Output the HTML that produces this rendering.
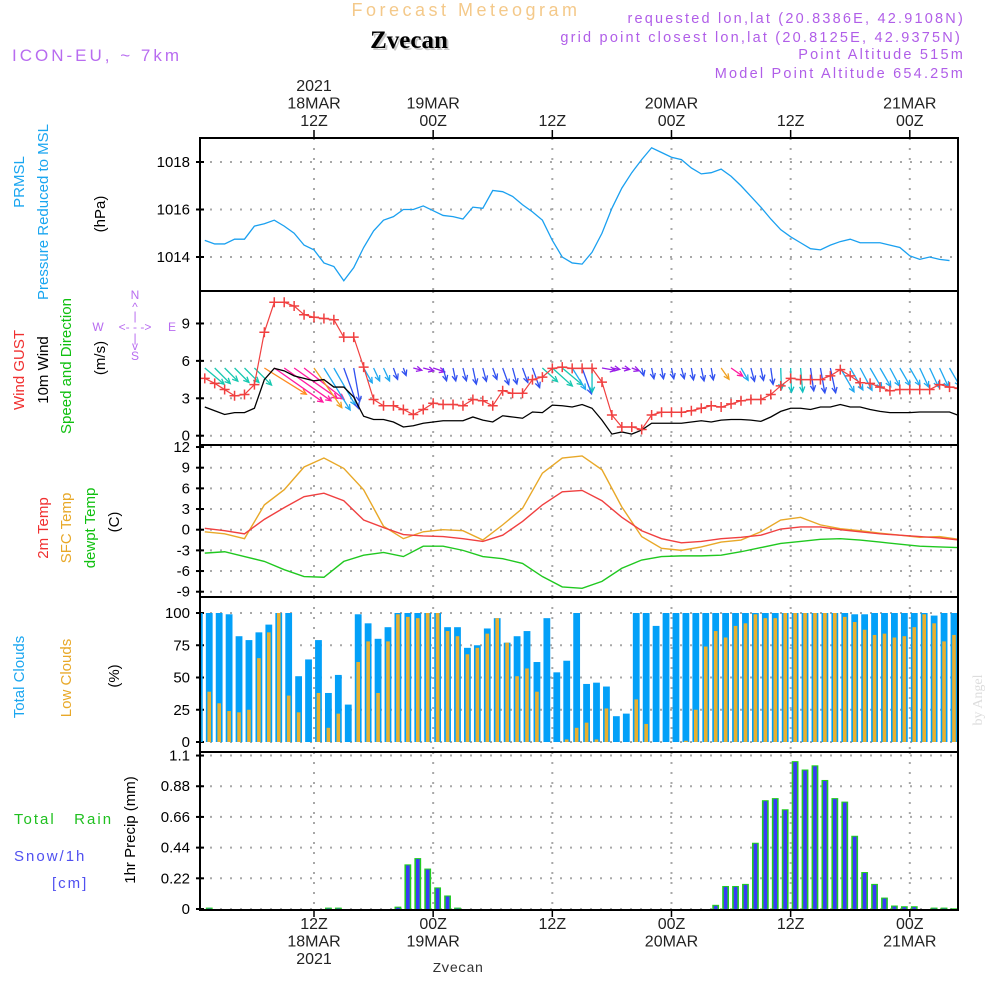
<!DOCTYPE html>
<html><head><meta charset="utf-8"><title>Meteogram Zvecan</title>
<style>
html,body{margin:0;padding:0;background:#fff;width:1000px;height:1000px;overflow:hidden}
svg{display:block;font-family:"Liberation Sans",sans-serif}
</style></head>
<body>
<svg id="chart" width="1000" height="1000" viewBox="0 0 1000 1000" xmlns="http://www.w3.org/2000/svg">
<!-- header -->
<text x="466" y="16" text-anchor="middle" font-size="18" fill="#f4c98a" letter-spacing="3.5">Forecast Meteogram</text>
<text x="411" y="50" text-anchor="middle" font-size="25" font-weight="bold" fill="#c8c8c8" font-family="Liberation Serif, serif">Zvecan</text>
<text x="409" y="48" text-anchor="middle" font-size="25" font-weight="bold" fill="#000" font-family="Liberation Serif, serif">Zvecan</text>
<text x="12" y="61" font-size="17" fill="#b86cf0" letter-spacing="3">ICON-EU, ~ 7km</text>
<g font-size="14.5" fill="#b05ee8" text-anchor="end" letter-spacing="2.2">
<text x="965" y="23">requested lon,lat (20.8386E, 42.9108N)</text>
<text x="962" y="42">grid point closest lon,lat (20.8125E, 42.9375N)</text>
<text x="965" y="59">Point Altitude 515m</text>
<text x="965" y="78">Model Point Altitude 654.25m</text>
</g>
<!-- left axis titles -->
<g font-size="15">
<text transform="translate(24,182) rotate(-90)" text-anchor="middle" fill="#1aa6f0">PRMSL</text>
<text transform="translate(48,212) rotate(-90)" text-anchor="middle" fill="#1aa6f0">Pressure Reduced to MSL</text>
<text transform="translate(105,214) rotate(-90)" text-anchor="middle" fill="#000">(hPa)</text>
<text transform="translate(24,370) rotate(-90)" text-anchor="middle" fill="#f03030">Wind GUST</text>
<text transform="translate(48,370) rotate(-90)" text-anchor="middle" fill="#000">10m Wind</text>
<text transform="translate(71,366) rotate(-90)" text-anchor="middle" fill="#10c010">Speed and Direction</text>
<text transform="translate(105,358) rotate(-90)" text-anchor="middle" fill="#000">(m/s)</text>
<text transform="translate(48,528) rotate(-90)" text-anchor="middle" fill="#f03030">2m Temp</text>
<text transform="translate(71,528) rotate(-90)" text-anchor="middle" fill="#e8a828">SFC Temp</text>
<text transform="translate(95,528) rotate(-90)" text-anchor="middle" fill="#10c010">dewpt Temp</text>
<text transform="translate(119,522) rotate(-90)" text-anchor="middle" fill="#000">(C)</text>
<text transform="translate(24,677) rotate(-90)" text-anchor="middle" fill="#1aa6f0">Total Clouds</text>
<text transform="translate(71,678) rotate(-90)" text-anchor="middle" fill="#e8a828">Low Clouds</text>
<text transform="translate(119,676) rotate(-90)" text-anchor="middle" fill="#000">(%)</text>
<text transform="translate(135,830) rotate(-90)" text-anchor="middle" fill="#000">1hr Precip (mm)</text>
<text x="14" y="824" fill="#20c020" letter-spacing="2">Total&#160;&#160;&#160;Rain</text>
<text x="14" y="861" fill="#5050f0" letter-spacing="2">Snow/1h</text>
<text x="52" y="888" fill="#5050f0" letter-spacing="2">[cm]</text>
</g>
<!-- compass -->
<g fill="#b86cf0" font-size="12" stroke="none">
<text x="135" y="299" text-anchor="middle">N</text>
<text x="135" y="311" text-anchor="middle">^</text>
<text x="135" y="320" text-anchor="middle">|</text>
<text x="98" y="331" text-anchor="middle">W</text>
<text x="135" y="331" text-anchor="middle">&lt;- - -&gt;</text>
<text x="172" y="331" text-anchor="middle">E</text>
<text x="135" y="342" text-anchor="middle">|</text>
<text x="135" y="350" text-anchor="middle">v</text>
<text x="135" y="360" text-anchor="middle">S</text>
</g>
<text transform="translate(982,700) rotate(-90)" text-anchor="middle" font-family="Liberation Serif, serif" font-size="14" fill="#dddddd">by Angel</text>
<text x="458" y="972" text-anchor="middle" font-family="Liberation Mono, monospace" font-size="14" fill="#333">Zvecan</text>
<g id="layer"></g>
</svg>
<script>
// ---------- data ----------
const timeTickHours = [12, 24, 36, 48, 60, 72];
const timeTickTop = [["2021","18MAR","12Z"],["19MAR","00Z"],["12Z"],["20MAR","00Z"],["12Z"],["21MAR","00Z"]];
const timeTickBottom = [["12Z","18MAR","2021"],["00Z","19MAR"],["12Z"],["00Z","20MAR"],["12Z"],["00Z","21MAR"]];

const pressHours = [1,2,3,4,5,6,7,8,9,10,11,12,13,14,15,16,17,18,19,20,21,22,23,24,25,26,27,28,29,30,31,32,33,34,35,36,37,38,39,40,41,42,43,44,45,46,47,48,49,50,51,52,53,54,55,56,57,58,59,60,61,62,63,64,65,66,67,68,69,70,71,72,73,74,75,76];
const pressure = [1014.7,1014.55,1014.55,1014.75,1014.75,1015.3,1015.4,1015.55,1015.3,1015.0,1014.5,1014.3,1013.75,1013.6,1013.0,1013.55,1014.4,1015.1,1015.55,1015.7,1016.0,1016.0,1016.15,1015.95,1015.75,1015.7,1015.6,1016.1,1016.05,1016.8,1016.75,1016.55,1016.2,1015.9,1015.55,1014.7,1014.0,1013.75,1013.7,1014.2,1015.0,1016.05,1016.9,1017.55,1018.1,1018.6,1018.4,1018.2,1018.1,1017.75,1017.5,1017.55,1017.7,1017.4,1017.0,1016.55,1016.1,1015.6,1015.15,1014.85,1014.6,1014.35,1014.3,1014.5,1014.65,1014.75,1014.6,1014.6,1014.6,1014.5,1014.4,1014.05,1013.9,1014.0,1013.9,1013.85];
const pressTicks = [1014, 1016, 1018];

const gust = [4.6,4.2,3.7,3.2,3.3,4.1,8.3,10.7,10.7,10.4,9.7,9.5,9.4,9.3,7.9,7.9,5.5,2.9,2.4,2.4,2.1,1.7,2.1,2.6,2.5,2.5,2.4,2.9,2.8,2.4,3.6,3.4,3.4,4.5,4.7,5.4,5.5,5.4,5.4,5.4,4.3,1.66,0.7,0.7,0.5,1.66,1.88,1.88,1.88,2.0,2.2,2.4,2.3,2.55,2.8,2.9,2.9,3.3,4.0,4.6,4.5,4.5,4.5,4.8,5.3,4.8,4.25,4.2,3.9,3.6,3.7,3.7,3.7,3.7,4.1,3.9,3.8];
const wind = [2.3,2.0,1.7,1.85,1.85,2.2,4.5,5.4,5.2,4.8,4.6,4.4,4.5,3.9,3.9,3.1,1.56,1.3,1.3,1.1,0.7,0.8,1.0,1.1,1.2,1.2,1.2,1.5,1.25,1.1,1.6,1.5,1.4,1.9,1.85,2.45,2.4,2.3,2.5,2.2,1.25,0.13,0.3,0.13,0.45,1.0,1.0,1.0,1.0,1.1,1.2,1.1,1.25,1.3,1.3,1.25,1.15,1.5,1.95,2.2,2.2,2.1,2.3,2.3,2.5,2.3,2.3,2.1,1.95,1.85,1.85,1.85,1.9,1.9,1.9,1.9,1.6];
const windBearing = [130,135,135,135,135,135,122,125,125,125,128,145,148,150,160,170,150,155,155,160,160,105,105,108,165,168,165,168,165,160,160,165,160,160,132,132,130,148,160,180,100,100,100,110,165,168,170,168,165,170,168,170,145,125,150,165,168,172,178,178,175,172,170,168,150,150,152,150,150,152,150,150,155,155,155,150,150];
const windTicks = [0, 3, 6, 9];

const tempHours = [1,3,5,7,9,11,13,15,17,19,21,23,25,27,29,31,33,35,37,39,41,43,45,47,49,51,53,55,57,59,61,63,65,67,69,71,73,75,77];
const temp2m = [0.2,-0.15,-0.6,1.5,3.2,4.8,5.3,4.2,1.4,0.3,-0.7,-0.9,-1.0,-1.3,-1.7,-0.8,1.2,3.6,5.5,5.7,4.2,1.8,-0.15,-1.3,-1.9,-1.7,-1.3,-1.1,-0.8,0.1,0.4,0.4,0.0,-0.3,-0.6,-0.8,-1.0,-1.2,-1.5];
const tempSfc = [-0.3,-0.6,-1.3,3.6,5.8,9.1,10.4,8.9,5.8,0.5,-1.3,-0.3,0.0,-0.15,-1.5,0.7,3.1,8.2,10.4,10.7,8.7,3.3,-1.0,-2.7,-3.0,-2.5,-1.8,-1.5,-0.3,1.4,1.8,0.7,0.15,-0.15,-0.5,-0.8,-1.1,-1.0,-1.4];
const dewpt = [-3.4,-3.2,-3.9,-4.6,-5.8,-6.8,-6.9,-4.6,-3.7,-3.3,-3.9,-2.4,-2.4,-3.0,-3.9,-4.2,-4.9,-6.8,-8.3,-8.5,-7.5,-5.6,-4.4,-3.9,-3.8,-3.8,-3.7,-3.2,-2.6,-2.0,-1.7,-1.4,-1.3,-1.5,-1.8,-2.1,-2.4,-2.5,-2.6];
const tempTicks = [-9,-6,-3,0,3,6,9,12];

const totalClouds = [100,100,100,99,82,79,85,91,100,100,51,64,79,38,52,29,99,92,80,89,100,100,100,100,100,89,89,73,75,88,96,77,82,86,62,96,54,63,100,45,46,43,20,22,100,100,90,100,100,100,100,100,100,100,100,100,100,100,100,100,100,100,100,100,100,100,99,99,100,100,100,100,100,100,98,100,100];
const lowClouds = [36,39,30,24,23,25,65,85,100,36,23,0,38,11,22,0,62,78,38,78,99,97,96,100,100,86,82,68,73,84,96,77,51,57,39,0,0,2,11,15,2,26,0,0,33,14,0,0,0,1,25,74,86,81,90,92,99,96,96,100,100,100,100,100,100,97,93,87,83,84,81,82,89,99,92,78,83];
const cloudTicks = [0,25,50,75,100];

const precip = [0,0.01,0,0,0,0,0,0,0,0,0,0,0,0.01,0.01,0,0,0,0,0,0.017,0.32,0.365,0.29,0.155,0.097,0.01,0,0,0,0,0,0,0,0,0,0,0,0,0,0,0,0,0,0,0,0,0,0,0,0,0,0.03,0.165,0.165,0.18,0.475,0.78,0.795,0.715,1.06,1.0,1.03,0.925,0.795,0.77,0.525,0.265,0.18,0.082,0.025,0.02,0.02,0,0.01,0.01,0.005];
const precipTicks = ["0","0.22","0.44","0.66","0.88","1.1"];

// ---------- layout ----------
const NS = "http://www.w3.org/2000/svg";
const L = 200, R = 958;
const panels = {
  press: {top:138, bot:291},
  wind: {top:291, bot:445},
  temp: {top:445, bot:597},
  cloud: {top:597, bot:752},
  precip: {top:752, bot:910}
};
function x(h){ return 314 + (h - 12) * 9.93; }
function yPress(v){ return 162 + (1018 - v) * 23.75; }
function yWind(v){ return 435.7 - v * 12.47; }
function yTemp(v){ return 529.7 - v * 6.89; }
function yCloud(v){ return 742 - v * 1.29; }
function yPrecip(v){ return 909 - v * 139.5; }

const layer = document.getElementById('layer');
function mk(tag, attrs, parent){
  const e = document.createElementNS(NS, tag);
  for (const k in attrs) e.setAttribute(k, attrs[k]);
  (parent || layer).appendChild(e);
  return e;
}
function grp(name){
  const g = mk('g', {});
  
  
  return g;
}
function clip(id, p){
  const cp = mk('clipPath', {id: id});
  mk('rect', {x: L, y: p.top, width: R - L, height: p.bot - p.top}, cp);
}
Object.keys(panels).forEach(k => clip('clip-' + k, panels[k]));

// grids
const gridG = grp('grid-lines');
function hgrid(y){ mk('line', {x1:L, x2:R, y1:y, y2:y, stroke:'#a8a8a8', 'stroke-width':2, 'stroke-dasharray':'2 8'}, gridG); }
function vgrid(p){ timeTickHours.forEach(h => mk('line', {x1:x(h), x2:x(h), y1:p.top, y2:p.bot, stroke:'#a8a8a8', 'stroke-width':2, 'stroke-dasharray':'2 8'}, gridG)); }
Object.keys(panels).forEach(k => vgrid(panels[k]));
pressTicks.forEach(v => hgrid(yPress(v)));
windTicks.forEach(v => hgrid(yWind(v)));
tempTicks.forEach(v => hgrid(yTemp(v)));
cloudTicks.forEach(v => hgrid(yCloud(v)));
precipTicks.forEach(v => hgrid(yPrecip(+v)));

// y tick labels
function yLabels(name, ticks, fn){
  const g = grp(name);
  ticks.forEach(t => {
    const y = fn(+t);
    const tx = mk('text', {x:190, y:y + 5, 'text-anchor':'end', 'font-size':15, fill:'#000'}, g);
    tx.textContent = t;
    mk('line', {x1:L - 4, x2:L + 4, y1:y, y2:y, stroke:'#000', 'stroke-width':2}, g);
  });
}
yLabels('pressure-y-axis', pressTicks, yPress);
yLabels('wind-y-axis', windTicks, yWind);
yLabels('temp-y-axis', tempTicks, yTemp);
yLabels('cloud-y-axis', cloudTicks, yCloud);
yLabels('precip-y-axis', precipTicks, yPrecip);

// time labels
const topG = grp('top-time-axis');
timeTickHours.forEach((h, i) => {
  const lines = timeTickTop[i];
  lines.forEach((s, j) => {
    const t = mk('text', {x:x(h), y:126 - (lines.length - 1 - j) * 17.5, 'text-anchor':'middle', 'font-size':16, fill:'#222'}, topG);
    t.textContent = s;
  });
  mk('line', {x1:x(h), x2:x(h), y1:130, y2:138, stroke:'#000', 'stroke-width':1.5}, topG);
});
const botG = grp('bottom-time-axis');
timeTickHours.forEach((h, i) => {
  timeTickBottom[i].forEach((s, j) => {
    const t = mk('text', {x:x(h), y:929 + j * 17.5, 'text-anchor':'middle', 'font-size':16, fill:'#222'}, botG);
    t.textContent = s;
  });
  mk('line', {x1:x(h), x2:x(h), y1:910, y2:917, stroke:'#000', 'stroke-width':1.5}, botG);
});

// pressure line
const pG = grp('pressure-series');
pG.setAttribute('clip-path', 'url(#clip-press)');
const pl = mk('polyline', {points: pressHours.map((h, i) => x(h) + ',' + yPress(pressure[i])).join(' '), fill:'none', stroke:'#1aa0f0', 'stroke-width':1.3}, pG);



// wind arrows
const aG = grp('wind-arrows');
aG.setAttribute('clip-path', 'url(#clip-wind)');
function arrowColor(b){
  if (b < 115) return '#9a1ee8';
  if (b < 124) return '#ff8a20';
  if (b < 129) return '#ff1aa0';
  if (b < 140) return '#18c8b0';
  if (b < 147) return '#f0a020';
  if (b < 158) return '#20a8f0';
  if (b < 175) return '#3050f0';
  return '#10c0c0';
}
windBearing.forEach((b, i) => {
  const h = i + 1;
  const len = Math.max(8, wind[i] * 11);
  const rad = b * Math.PI / 180;
  const x0 = x(h), y0 = 368;
  const x1 = x0 + Math.sin(rad) * len, y1 = y0 - Math.cos(rad) * len;
  const c = arrowColor(b);
  const ag = mk('g', {stroke:c, 'stroke-width':1.3, fill:'none'}, aG);
  
  
  mk('line', {x1:x0, y1:y0, x2:x1, y2:y1}, ag);
  const hl = 6, a1 = rad + Math.PI - 0.45, a2 = rad + Math.PI + 0.45;
  mk('polyline', {points: (x1 + Math.sin(a1) * hl) + ',' + (y1 - Math.cos(a1) * hl) + ' ' + x1 + ',' + y1 + ' ' + (x1 + Math.sin(a2) * hl) + ',' + (y1 - Math.cos(a2) * hl)}, ag);
});

// wind speed and gust
const wG = grp('wind-series');
wG.setAttribute('clip-path', 'url(#clip-wind)');
const wl = mk('polyline', {points: wind.map((v, i) => x(i + 1) + ',' + yWind(v)).join(' '), fill:'none', stroke:'#000', 'stroke-width':1.3}, wG);


const gl = mk('polyline', {points: gust.map((v, i) => x(i + 1) + ',' + yWind(v)).join(' '), fill:'none', stroke:'#f04040', 'stroke-width':1.2}, wG);


gust.forEach((v, i) => {
  const cx = x(i + 1), cy = yWind(v);
  const m = mk('path', {d:'M' + (cx - 5) + ' ' + cy + 'H' + (cx + 5) + 'M' + cx + ' ' + (cy - 5) + 'V' + (cy + 5), stroke:'#f04040', 'stroke-width':1.5}, wG);
  
  
});

// temperatures
const tG = grp('temperature-series');
tG.setAttribute('clip-path', 'url(#clip-temp)');
[[tempSfc, '#e8a828', 'sfc-temp-line'], [temp2m, '#f04040', 'temp-2m-line'], [dewpt, '#20c820', 'dewpoint-line']].forEach(s => {
  const l = mk('polyline', {points: tempHours.map((h, i) => x(h) + ',' + yTemp(s[0][i])).join(' '), fill:'none', stroke:s[1], 'stroke-width':1.4}, tG);
  
  
});

// clouds
const cG = grp('cloud-bars');
cG.setAttribute('clip-path', 'url(#clip-cloud)');
totalClouds.forEach((v, i) => {
  const cx = x(i + 0.45);
  const b = mk('rect', {x:cx - 3.4, y:yCloud(v), width:6.8, height:yCloud(0) - yCloud(v), fill:'#03a0f8'}, cG);
  
  
  const lv = lowClouds[i];
  const lb = mk('rect', {x:cx - 1.8, y:yCloud(lv), width:3.6, height:yCloud(0) - yCloud(lv), fill:'#e8b030'}, cG);
  
  
});

// precip
const rG = grp('precip-bars');
rG.setAttribute('clip-path', 'url(#clip-precip)');
precip.forEach((v, i) => {
  const cx = x(i + 0.45);
  const h = yPrecip(0) - yPrecip(v);
  const b = mk('rect', {x:cx - 3.4, y:yPrecip(v), width:6.8, height:h, fill:'#22cc22'}, rG);
  
  
  const rb = mk('rect', {x:cx - 1.8, y:yPrecip(v) + 1, width:3.6, height:Math.max(0, h - 1), fill:'#3a3af8'}, rG);
  
  
});

// panel frames
const fG = grp('panel-frames');
Object.keys(panels).forEach(k => {
  const p = panels[k];
  const r = mk('rect', {x:L, y:p.top, width:R - L, height:p.bot - p.top, fill:'none', stroke:'#000', 'stroke-width':2}, fG);
  
  
});
</script>
</body></html>
